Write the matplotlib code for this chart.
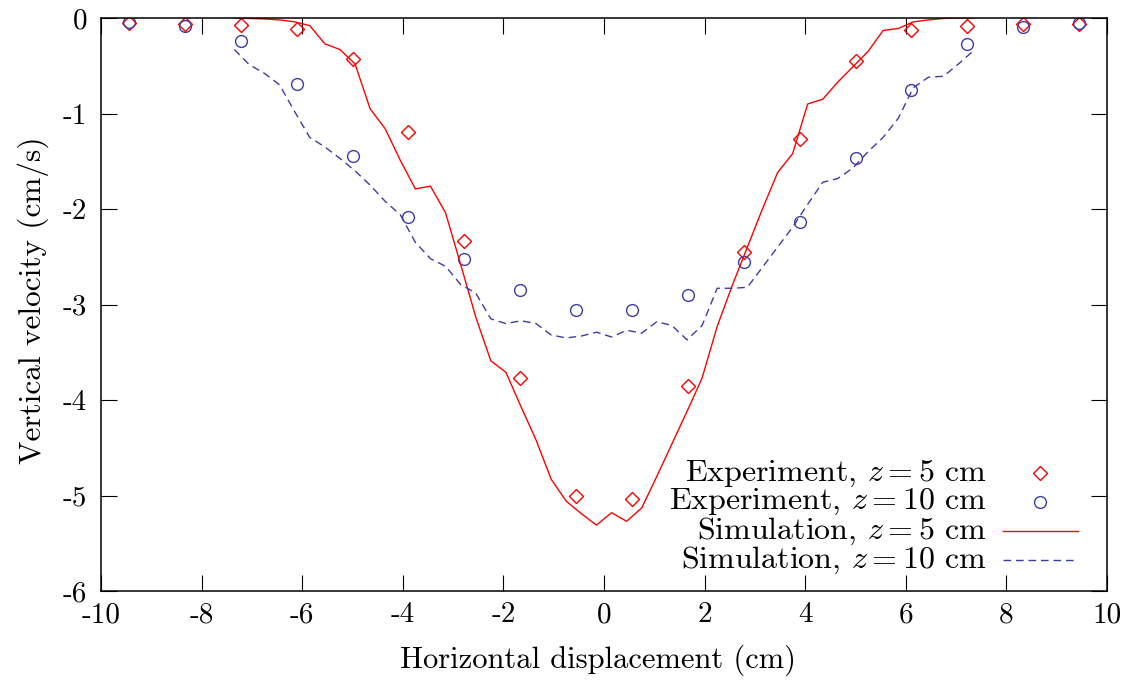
import matplotlib
matplotlib.use("Agg")
import matplotlib.pyplot as plt
from matplotlib.lines import Line2D

plt.rcParams["font.family"] = ["cmr10", "DejaVu Serif"]
plt.rcParams["mathtext.fontset"] = "cm"
plt.rcParams["axes.unicode_minus"] = False
plt.rcParams["axes.formatter.use_mathtext"] = True

# Experimental measurements (points)
exp_x = [-9.44, -8.33, -7.22, -6.11, -5.00, -3.89, -2.78, -1.67, -0.56,
         0.56, 1.67, 2.78, 3.89, 5.00, 6.11, 7.22, 8.33, 9.44]
exp_z5 = [-0.05, -0.06, -0.07, -0.12, -0.43, -1.19, -2.33, -3.77, -5.00,
          -5.04, -3.85, -2.45, -1.27, -0.45, -0.13, -0.08, -0.06, -0.06]
exp_z10 = [-0.04, -0.08, -0.24, -0.69, -1.44, -2.08, -2.52, -2.85, -3.06,
           -3.06, -2.90, -2.56, -2.14, -1.47, -0.75, -0.27, -0.09, -0.05]

# Simulation profiles
sim_x = [-7.35, -7.05, -6.75, -6.45, -6.15, -5.85, -5.55, -5.25, -4.95, -4.65,
         -4.35, -4.05, -3.75, -3.45, -3.15, -2.85, -2.55, -2.25, -1.95, -1.65,
         -1.35, -1.05, -0.75, -0.45, -0.15, 0.15, 0.45, 0.75, 1.05, 1.35,
         1.65, 1.95, 2.25, 2.55, 2.85, 3.15, 3.45, 3.75, 4.05, 4.35,
         4.65, 4.95, 5.25, 5.55, 5.85, 6.15, 6.45, 6.75, 7.05, 7.35]
sim_z5 = [0.0, -0.005, -0.01, -0.02, -0.04, -0.08, -0.27, -0.33, -0.48, -0.95,
          -1.16, -1.49, -1.79, -1.76, -2.04, -2.58, -3.13, -3.59, -3.71, -4.07,
          -4.42, -4.83, -5.06, -5.19, -5.31, -5.18, -5.27, -5.13, -4.80, -4.46,
          -4.12, -3.77, -3.23, -2.80, -2.40, -2.00, -1.62, -1.42, -0.90, -0.85,
          -0.67, -0.51, -0.35, -0.13, -0.11, -0.04, -0.02, -0.005, 0.0, 0.0]
sim_z10 = [-0.33, -0.49, -0.58, -0.70, -0.98, -1.25, -1.35, -1.47, -1.60, -1.75,
           -1.92, -2.06, -2.35, -2.52, -2.60, -2.79, -2.88, -3.15, -3.20, -3.17,
           -3.20, -3.32, -3.35, -3.33, -3.29, -3.34, -3.27, -3.30, -3.18, -3.22,
           -3.37, -3.22, -2.83, -2.83, -2.82, -2.61, -2.40, -2.19, -1.95, -1.72,
           -1.68, -1.57, -1.40, -1.25, -1.05, -0.73, -0.62, -0.61, -0.48, -0.34]

x_ticks = [-10, -8, -6, -4, -2, 0, 2, 4, 6, 8, 10]
y_ticks = [0, -1, -2, -3, -4, -5, -6]

labels = [r"Experiment, $z=5$ cm", r"Experiment, $z=10$ cm",
          r"Simulation, $z=5$ cm", r"Simulation, $z=10$ cm"]

RED = "#ff0000"
BLUE = "#3c3ca8"
FS = 22

fig = plt.figure(figsize=(11.33, 6.82), dpi=100)
ax = fig.add_axes([101 / 1133, 1 - 591 / 682, 1006 / 1133, 573 / 682])

ax.plot(exp_x, exp_z5, linestyle="none", marker="D", markersize=7.5,
        markerfacecolor="none", markeredgecolor=RED, markeredgewidth=1.0)
ax.plot(exp_x, exp_z10, linestyle="none", marker="o", markersize=8.5,
        markerfacecolor="none", markeredgecolor=BLUE, markeredgewidth=1.0)
ax.plot(sim_x, sim_z5, color=RED, linewidth=1.0)
ax.plot(sim_x, sim_z10, color=BLUE, linewidth=1.0, dashes=(5.5, 3.5))

ax.set_xlim(-10, 10)
ax.set_ylim(-6, 0)
ax.set_xticks(x_ticks)
ax.set_xticklabels([str(v) for v in x_ticks])
ax.set_yticks(y_ticks)
ax.set_yticklabels([str(v) for v in y_ticks])
ax.tick_params(direction="in", length=11.5, width=0.8, top=True, right=True,
               labelsize=21, color="black")
ax.tick_params(axis="x", pad=8)
ax.tick_params(axis="y", pad=10)
for s in ax.spines.values():
    s.set_linewidth(1.1)

fig.text(598 / 1133, 1 - 660 / 682, "Horizontal displacement (cm)",
         ha="center", va="center", fontsize=FS)
fig.text(33 / 1133, 1 - 300 / 682, "Vertical velocity (cm/s)",
         ha="center", va="center", rotation=90, fontsize=FS + 0.5)

# Key: right-aligned text with samples to its right
row_y = [473, 502, 531, 560]
text_x = 987
for i, (lab, yy) in enumerate(zip(labels, row_y)):
    ya = 1 - (yy - 18) / 573
    ax.text((text_x - 101) / 1006, ya, lab, transform=ax.transAxes,
            ha="right", va="center", fontsize=23)
    if i == 0:
        ax.add_line(Line2D([(1040 - 101) / 1006], [ya], transform=ax.transAxes,
                           linestyle="none", marker="D", markersize=7.5,
                           markerfacecolor="none", markeredgecolor=RED,
                           markeredgewidth=1.0))
    elif i == 1:
        ax.add_line(Line2D([(1040 - 101) / 1006], [ya], transform=ax.transAxes,
                           linestyle="none", marker="o", markersize=8.5,
                           markerfacecolor="none", markeredgecolor=BLUE,
                           markeredgewidth=1.0))
    elif i == 2:
        ax.add_line(Line2D([(1003 - 101) / 1006, (1078 - 101) / 1006], [ya, ya],
                           transform=ax.transAxes, color=RED, linewidth=1.0))
    else:
        ax.add_line(Line2D([(1003 - 101) / 1006, (1078 - 101) / 1006], [ya, ya],
                           transform=ax.transAxes, color=BLUE, linewidth=1.0,
                           dashes=(5.5, 3.5)))

fig.savefig("out.png", dpi=100)
